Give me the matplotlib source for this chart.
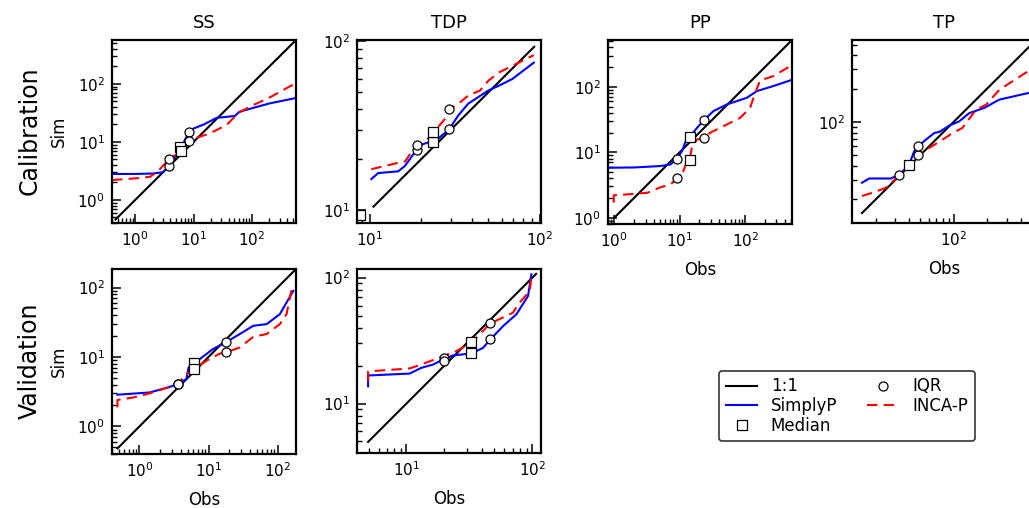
import matplotlib
matplotlib.use('Agg')
import matplotlib.pyplot as plt
from matplotlib.ticker import NullFormatter, FixedLocator, LogFormatterSciNotation
from matplotlib.lines import Line2D

# ---- data: quantiles (obs, sim) ----
# SS calibration
ss_cal_simplyp_obs = [0.4, 1.0, 2.0, 3.0, 3.8, 4.5, 6.0, 7.0, 8.4, 10, 15, 25, 37, 51, 61, 100, 200, 566]
ss_cal_simplyp_sim = [2.8, 2.8, 2.85, 3.0, 3.9, 5.0, 7.0, 10.5, 15, 17, 20, 26, 27, 28, 33, 38, 46, 57]
ss_cal_incap_obs = [0.4, 1.0, 1.8, 2.5, 3.8, 5.0, 6.0, 8.4, 12, 19, 37, 48, 63, 100, 200, 566]
ss_cal_incap_sim = [2.2, 2.35, 2.5, 3.2, 5.0, 6.0, 7.0, 10.5, 12, 14, 19.6, 25.6, 33, 42, 58, 103]
ss_cal_median_obs = [5.8, 6.0]
ss_cal_median_sim = [8.3, 7.0]
ss_cal_iqr_obs = [3.8, 3.8, 8.4, 8.4]
ss_cal_iqr_sim = [3.9, 5.0, 15, 10.5]

# TDP calibration
tdp_cal_simplyp_obs = [10.2, 11.2, 14.7, 16.1, 18, 20.2, 23.2, 25.2, 29.3, 33.3, 38, 49.9, 57.6, 68.9, 92.5]
tdp_cal_simplyp_sim = [15.3, 16.6, 17, 18.3, 21.4, 24.5, 25.6, 26.5, 30.1, 36.6, 42.8, 51.2, 54.7, 59.8, 74.9]
tdp_cal_incap_obs = [10.2, 14.7, 16.1, 18, 19.8, 22.1, 23.7, 27.8, 29.3, 33.3, 38, 44.6, 49.9, 57.6, 68.9, 92.5]
tdp_cal_incap_sim = [17.5, 19.1, 19.4, 22.9, 24.4, 26.7, 28.9, 34.9, 39.6, 42.8, 47.8, 51.2, 58.5, 65.5, 71.6, 83]
tdp_cal_median_obs = [23.7, 23.7, 8.7]
tdp_cal_median_sim = [25.2, 28.9, 9.4]
tdp_cal_iqr_obs = [18.9, 18.9, 29.3, 29.3]
tdp_cal_iqr_sim = [22.6, 24.4, 30.1, 39.6]

# PP calibration
pp_cal_simplyp_obs = [0.8, 2.0, 5.0, 7.2, 9.06, 10.8, 12.9, 14.1, 18, 23.1, 32.8, 52.5, 106, 151, 271, 520]
pp_cal_simplyp_sim = [5.8, 5.85, 6.15, 6.5, 7.95, 10.4, 16.6, 17.1, 23, 30.7, 42.6, 53.8, 68, 86, 103, 128]
pp_cal_incap_obs = [0.98, 0.98, 1.56, 3.2, 5.0, 7.2, 9.06, 11.4, 12.9, 14.1, 15.3, 18.3, 23.1, 29.2, 41.5, 59, 84,
                    119, 134, 160, 168, 271, 486]
pp_cal_incap_sim = [1.7, 2.2, 2.27, 2.4, 2.9, 3.2, 4.0, 5.2, 7.3, 7.5, 11.7, 15.7, 16.3, 19.9, 23.7, 28.2, 33.6,
                    47.8, 68, 109, 125, 146, 207]
pp_cal_median_obs = [14.1, 14.1]
pp_cal_median_sim = [17.1, 7.5]
pp_cal_iqr_obs = [9.06, 9.06, 23.1, 23.1]
pp_cal_iqr_sim = [7.95, 4.0, 30.7, 16.3]

# TP calibration
tp_cal_simplyp_obs = [15, 17.4, 27.3, 32.4, 39.5, 44.3, 48.1, 56.4, 67, 74.6, 91.5, 112, 138, 189, 257, 464, 560]
tp_cal_simplyp_sim = [28.2, 30.8, 30.8, 33.5, 40.4, 54.4, 60.3, 69.2, 79.4, 81.3, 92.7, 101, 120, 134, 159, 182, 186]
tp_cal_incap_obs = [15, 19.4, 24.6, 32.4, 39.5, 42.8, 48.1, 60.4, 79.6, 98, 120, 159, 196, 257, 464, 560]
tp_cal_incap_sim = [21.4, 23.2, 25.4, 32.8, 40.4, 45.7, 50.7, 58.3, 69.2, 79.4, 88.3, 129, 143, 195, 286, 310]
tp_cal_median_obs = [39.5]
tp_cal_median_sim = [40.4]
tp_cal_iqr_obs = [32.4, 48.1, 48.1]
tp_cal_iqr_sim = [32.8, 50.7, 60.3]

# SS validation
ss_val_simplyp_obs = [0.48, 1.4, 2.44, 3.6, 4.77, 5.15, 6.1, 7.45, 11.6, 17.7, 28.4, 44.4, 69.4, 108, 135, 169]
ss_val_simplyp_sim = [2.86, 3.08, 3.57, 4.07, 4.8, 7.06, 8.06, 9.3, 13, 16.2, 21.4, 28.1, 29.7, 41.4, 60.8, 89.8]
ss_val_incap_obs = [0.48, 0.48, 0.8, 1.4, 2.44, 3.6, 4.77, 6.1, 9.3, 14.6, 17.7, 28.4, 44.4, 69.4, 108, 135, 160]
ss_val_incap_sim = [1.88, 2.4, 2.6, 2.98, 3.57, 4.07, 5.68, 6.6, 8.8, 11.2, 11.6, 13.7, 19.5, 21.4, 29.7, 41.4, 95]
ss_val_median_obs = [6.1, 6.1]
ss_val_median_sim = [8.06, 6.6]
ss_val_iqr_obs = [3.6, 3.6, 17.7, 17.7]
ss_val_iqr_sim = [4.07, 4.07, 16.2, 11.6]

# TDP validation
tdp_val_simplyp_obs = [4.96, 4.96, 10.6, 13.1, 16.3, 19.6, 23.4, 32.8, 40.6, 46.4, 58.5, 74.6, 92.3, 98.2]
tdp_val_simplyp_sim = [13.7, 16.7, 17.3, 19.2, 20.4, 22.4, 24.1, 25, 27.7, 32.3, 41.2, 51.1, 71.5, 106]
tdp_val_incap_obs = [4.96, 4.96, 10.6, 13.1, 19.6, 24.9, 32.8, 46.4, 70.1, 76.9, 95.3, 98.2]
tdp_val_incap_sim = [15, 18, 19, 20.4, 23.8, 26.1, 30.4, 43.3, 52.6, 61.2, 78.3, 102]
tdp_val_median_obs = [32.8, 32.8]
tdp_val_median_sim = [30.8, 25.3]
tdp_val_iqr_obs = [19.9, 19.9, 46.4, 46.4]
tdp_val_iqr_sim = [23.1, 21.9, 43.3, 32.3]

# 1:1 line extents and axis limits
one_to_one = {'ss_cal': (0.46, 570), 'tdp_cal': (10.5, 93), 'pp_cal': (1.0, 520), 'tp_cal': (15, 560),
              'ss_val': (0.48, 185), 'tdp_val': (4.96, 107)}
limits = {'ss_cal': (0.4, 570), 'tdp_cal': (8.4, 102), 'pp_cal': (0.8, 520), 'tp_cal': (12.2, 550),
          'ss_val': (0.4, 185), 'tdp_val': (4.05, 117)}

panels = {
    'ss_cal': (ss_cal_simplyp_obs, ss_cal_simplyp_sim, ss_cal_incap_obs, ss_cal_incap_sim,
               ss_cal_median_obs, ss_cal_median_sim, ss_cal_iqr_obs, ss_cal_iqr_sim),
    'tdp_cal': (tdp_cal_simplyp_obs, tdp_cal_simplyp_sim, tdp_cal_incap_obs, tdp_cal_incap_sim,
                tdp_cal_median_obs, tdp_cal_median_sim, tdp_cal_iqr_obs, tdp_cal_iqr_sim),
    'pp_cal': (pp_cal_simplyp_obs, pp_cal_simplyp_sim, pp_cal_incap_obs, pp_cal_incap_sim,
               pp_cal_median_obs, pp_cal_median_sim, pp_cal_iqr_obs, pp_cal_iqr_sim),
    'tp_cal': (tp_cal_simplyp_obs, tp_cal_simplyp_sim, tp_cal_incap_obs, tp_cal_incap_sim,
               tp_cal_median_obs, tp_cal_median_sim, tp_cal_iqr_obs, tp_cal_iqr_sim),
    'ss_val': (ss_val_simplyp_obs, ss_val_simplyp_sim, ss_val_incap_obs, ss_val_incap_sim,
               ss_val_median_obs, ss_val_median_sim, ss_val_iqr_obs, ss_val_iqr_sim),
    'tdp_val': (tdp_val_simplyp_obs, tdp_val_simplyp_sim, tdp_val_incap_obs, tdp_val_incap_sim,
                tdp_val_median_obs, tdp_val_median_sim, tdp_val_iqr_obs, tdp_val_iqr_sim),
}
titles = {'ss_cal': 'SS', 'tdp_cal': 'TDP', 'pp_cal': 'PP', 'tp_cal': 'TP'}

# tick positions on the log axes
major_ticks = [10.0 ** e for e in range(-1, 4)]
minor_ticks = [m * 10.0 ** e for e in range(-1, 3) for m in range(2, 10)]

# ---- layout (pixels) ----
W, H = 1029, 508
fig = plt.figure(figsize=(W / 100, H / 100), dpi=100)

def px_axes(left, top, w, h):
    return fig.add_axes([left / W, (H - top - h) / H, w / W, h / H])

boxes = {'ss_cal': (112, 40, 184, 183), 'tdp_cal': (357, 40, 184, 183),
         'pp_cal': (608, 40, 184, 184), 'tp_cal': (852, 40, 184, 183),
         'ss_val': (112, 269, 184, 185), 'tdp_val': (357, 269, 184, 184)}

for key, (so, ss, io, isim, mo, msim, qo, qs) in panels.items():
    ax = px_axes(*boxes[key])
    lo, hi = one_to_one[key]
    ax.plot([lo, hi], [lo, hi], color='black', lw=1.5)
    ax.plot(so, ss, color='blue', lw=1.5)
    ax.plot(io, isim, color='red', lw=1.5, ls=(0, (5, 3)))
    ax.plot(mo, msim, ls='none', marker='s', markersize=6.5, mfc='white', mec='black', mew=0.9)
    ax.plot(qo, qs, ls='none', marker='o', markersize=6.5, mfc='white', mec='black', mew=0.9)
    ax.set_xscale('log')
    ax.set_yscale('log')
    ax.set_xlim(limits[key])
    ax.set_ylim(limits[key])
    for sp in ax.spines.values():
        sp.set_linewidth(1.6)
    if key in titles:
        ax.set_title(titles[key], fontsize=13, pad=9)
    if key in ('pp_cal', 'tp_cal', 'ss_val', 'tdp_val'):
        ax.set_xlabel('Obs', fontsize=12, labelpad=8)
    if key in ('ss_cal', 'ss_val'):
        ax.set_ylabel('Sim', fontsize=12, labelpad=7)

fig.text(30 / W, 1 - 131 / H, 'Calibration', rotation=90, fontsize=17, ha='center', va='center')
fig.text(30 / W, 1 - 361 / H, 'Validation', rotation=90, fontsize=17, ha='center', va='center')

handles = [Line2D([], [], color='black', lw=1.5),
           Line2D([], [], color='blue', lw=1.5),
           Line2D([], [], ls='none', marker='s', markersize=6.5, mfc='white', mec='black', mew=0.9),
           Line2D([], [], ls='none', marker='o', markersize=6.5, mfc='white', mec='black', mew=0.9),
           Line2D([], [], color='red', lw=1.5, ls=(0, (5, 3)))]
labels = ['1:1', 'SimplyP', 'Median', 'IQR', 'INCA-P']
leg = fig.legend(handles, labels, ncol=2, fontsize=12, loc='center',
                 bbox_to_anchor=(847 / W, 1 - 406 / H), frameon=True, fancybox=True,
                 labelspacing=0.1, columnspacing=1.8, handlelength=1.9, borderpad=0.4,
                 handletextpad=0.8)
leg.get_frame().set_edgecolor('black')
leg.get_frame().set_linewidth(1.2)

# ticks last, once everything else is in place
for ax in fig.axes:
    for axis in (ax.xaxis, ax.yaxis):
        axis.set_major_locator(FixedLocator(major_ticks))
        axis.set_major_formatter(LogFormatterSciNotation())
        axis.set_minor_locator(FixedLocator(minor_ticks))
        axis.set_minor_formatter(NullFormatter())
    ax.tick_params(which='major', direction='in', length=6.5, width=1.1, labelsize=11, pad=5)
    ax.tick_params(which='minor', direction='in', length=3.8, width=1.0)

fig.savefig('out.png', dpi=100)
